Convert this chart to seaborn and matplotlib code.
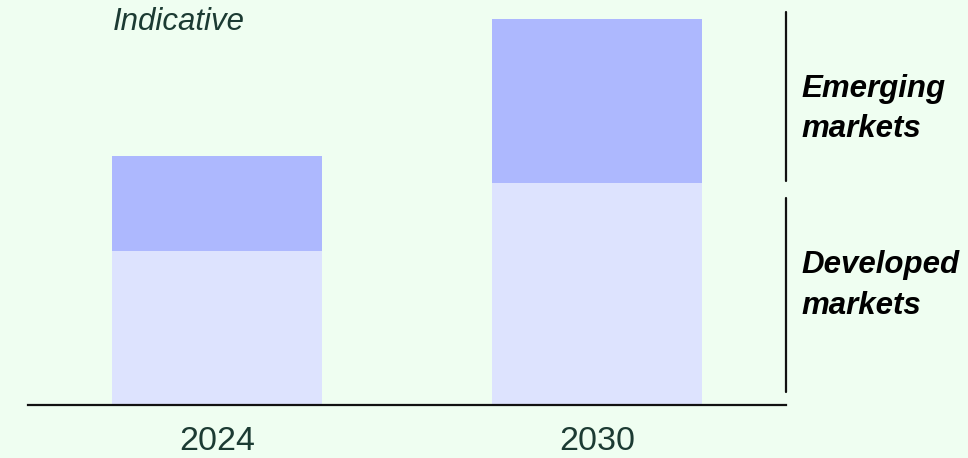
import matplotlib
matplotlib.use("Agg")
import matplotlib.pyplot as plt
import matplotlib.transforms as mtransforms
import pandas as pd
import seaborn as sns

# Indicative market size (2024 total = 100)
years = ["2024", "2030"]
developed = [61.8, 89.2]
emerging = [38.2, 65.9]
segment_labels = ["Developed\nmarkets", "Emerging\nmarkets"]
note_text = "Indicative"

BG = "#effef1"
DEV_COLOR = "#dde3fe"
EM_COLOR = "#adb8fe"
TEXT_GREEN = "#1c3b33"


def main():
    df = pd.DataFrame({"Year": years, "Developed": developed, "Emerging": emerging})
    df["Total"] = df["Developed"] + df["Emerging"]

    sns.set_theme(style="white")
    plt.rcParams["font.family"] = ["Liberation Sans", "DejaVu Sans"]

    fig = plt.figure(figsize=(9.68, 4.58), dpi=100, facecolor=BG)
    ax = fig.add_axes([0.0289, 0.1157, 0.7831, 0.8843])
    ax.set_facecolor(BG)

    # stacked bars: total first (emerging colour), developed drawn over it
    sns.barplot(data=df, x="Year", y="Total", color=EM_COLOR, width=0.553,
                saturation=1, linewidth=0, ax=ax)
    sns.barplot(data=df, x="Year", y="Developed", color=DEV_COLOR, width=0.553,
                saturation=1, linewidth=0, ax=ax)

    ax.set_xlim(-0.497, 1.497)
    ax.set_ylim(0, 162.65)
    ax.set_xlabel("")
    ax.set_ylabel("")
    ax.set_yticks([])
    ax.tick_params(axis="x", length=0, pad=15, labelsize=24.5, labelcolor=TEXT_GREEN)
    for side in ["left", "right", "top"]:
        ax.spines[side].set_visible(False)
    ax.spines["bottom"].set_color("#111111")
    ax.spines["bottom"].set_linewidth(1.6)

    # brackets on the right, tied to the 2030 bar segments
    trans = mtransforms.blended_transform_factory(ax.transAxes, ax.transData)
    dev30 = df["Developed"].iloc[-1]
    tot30 = df["Total"].iloc[-1]
    ax.plot([1, 1], [dev30 + 0.8, tot30 + 2.7], transform=trans, color="#111111",
            lw=1.6, clip_on=False)
    ax.plot([1, 1], [5.2, dev30 - 6.1], transform=trans, color="#111111",
            lw=1.6, clip_on=False)

    label_kw = dict(transform=trans, ha="left", va="center", fontsize=22.5,
                    fontweight="bold", fontstyle="italic", color="black",
                    linespacing=1.45)
    ax.text(1.0198, 119.0, segment_labels[1], **label_kw)
    ax.text(1.0198, 48.0, segment_labels[0], **label_kw)

    ax.text(0.112, 0.926, note_text, transform=ax.transAxes, ha="left", va="baseline",
            fontsize=22.5, fontstyle="italic", color=TEXT_GREEN)

    fig.savefig("out.png", dpi=100, facecolor=BG)


if __name__ == "__main__":
    main()
